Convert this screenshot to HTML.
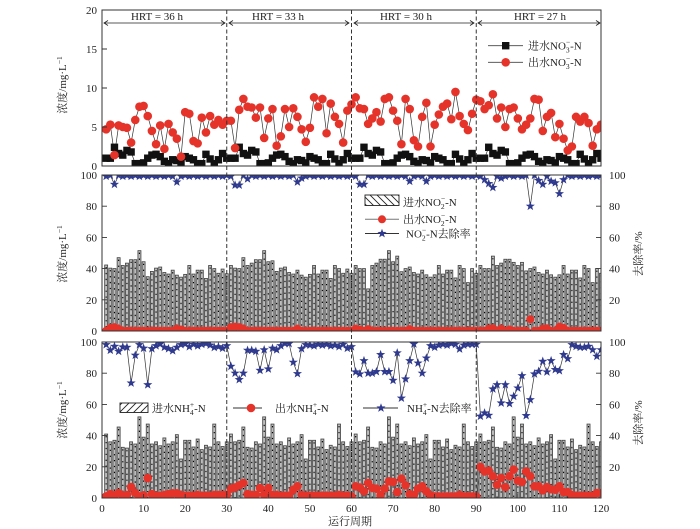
<!DOCTYPE html>
<html><head><meta charset="utf-8">
<style>
html,body{margin:0;padding:0;background:#fff;}
svg{display:block;}
text{font-family:"Liberation Serif","Noto Serif CJK SC",serif;fill:#222;font-size:11px;}
</style></head>
<body>
<svg id="c" width="700" height="529" viewBox="0 0 700 529" xmlns="http://www.w3.org/2000/svg">
<defs>
 <clipPath id="cp1"><rect x="102" y="10" width="499" height="156"/></clipPath>
 <clipPath id="cp2"><rect x="102" y="175" width="499" height="156"/></clipPath>
 <clipPath id="cp3"><rect x="102" y="342" width="499" height="156"/></clipPath>
 <pattern id="hb" patternUnits="userSpaceOnUse" width="7" height="7">
  <path d="M0,0 L7,7 M-2,5 L2,9 M5,-2 L9,2" stroke="#222" stroke-width="0.9"/>
 </pattern>
 <pattern id="hf" patternUnits="userSpaceOnUse" width="7" height="7">
  <path d="M0,7 L7,0 M-2,2 L2,-2 M5,9 L9,5" stroke="#222" stroke-width="0.9"/>
 </pattern>
</defs>

<!-- data groups -->
<g id="g1" clip-path="url(#cp1)"></g>
<g id="g2" clip-path="url(#cp2)"></g>
<g id="g3" clip-path="url(#cp3)"></g>

<!-- dashed separators -->
<g stroke="#333" stroke-width="1" stroke-dasharray="4 2.5">
 <line x1="226.75" y1="10" x2="226.75" y2="498"/>
 <line x1="351.5" y1="10" x2="351.5" y2="498"/>
 <line x1="476.25" y1="10" x2="476.25" y2="498"/>
</g>

<!-- panel frames -->
<g fill="none" stroke="#333" stroke-width="1">
 <rect x="102" y="10" width="499" height="156"/>
 <rect x="102" y="175" width="499" height="156"/>
 <rect x="102" y="342" width="499" height="156"/>
</g>

<!-- ticks -->
<g stroke="#333" stroke-width="0.9">
 <path d="M102,127 h5 M102,88 h5 M102,49 h5"/>
 <path d="M102,299.8 h5 M102,268.6 h5 M102,237.4 h5 M102,206.2 h5"/>
 <path d="M601,299.8 h-5 M601,268.6 h-5 M601,237.4 h-5 M601,206.2 h-5"/>
 <path d="M102,466.8 h5 M102,435.6 h5 M102,404.4 h5 M102,373.2 h5"/>
 <path d="M601,466.8 h-5 M601,435.6 h-5 M601,404.4 h-5 M601,373.2 h-5"/>
 <path d="M143.6,498 v-4 M185.2,498 v-4 M226.75,498 v-4 M268.3,498 v-4 M309.9,498 v-4 M351.5,498 v-4 M393.1,498 v-4 M434.6,498 v-4 M476.25,498 v-4 M517.8,498 v-4 M559.4,498 v-4"/>
</g>

<!-- left tick labels -->
<g text-anchor="end">
 <text x="97" y="14">20</text>
 <text x="97" y="131">5</text>
 <text x="97" y="92">10</text>
 <text x="97" y="53">15</text>
 <text x="97" y="170">0</text>
 <text x="97" y="179">100</text>
 <text x="97" y="210.2">80</text>
 <text x="97" y="241.4">60</text>
 <text x="97" y="272.6">40</text>
 <text x="97" y="303.8">20</text>
 <text x="97" y="335">0</text>
 <text x="97" y="346">100</text>
 <text x="97" y="377.2">80</text>
 <text x="97" y="408.4">60</text>
 <text x="97" y="439.6">40</text>
 <text x="97" y="470.8">20</text>
 <text x="97" y="502">0</text>
</g>
<!-- right tick labels -->
<g text-anchor="start">
 <text x="609" y="179">100</text>
 <text x="609" y="210.2">80</text>
 <text x="609" y="241.4">60</text>
 <text x="609" y="272.6">40</text>
 <text x="609" y="303.8">20</text>
 <text x="609" y="346">100</text>
 <text x="609" y="377.2">80</text>
 <text x="609" y="408.4">60</text>
 <text x="609" y="439.6">40</text>
 <text x="609" y="470.8">20</text>
</g>
<!-- x tick labels -->
<g text-anchor="middle">
 <text x="102" y="512">0</text>
 <text x="143.6" y="512">10</text>
 <text x="185.2" y="512">20</text>
 <text x="226.75" y="512">30</text>
 <text x="268.3" y="512">40</text>
 <text x="309.9" y="512">50</text>
 <text x="351.5" y="512">60</text>
 <text x="393.1" y="512">70</text>
 <text x="434.6" y="512">80</text>
 <text x="476.25" y="512">90</text>
 <text x="517.8" y="512">100</text>
 <text x="559.4" y="512">110</text>
 <text x="601" y="512">120</text>
</g>
<text x="350" y="525" text-anchor="middle">运行周期</text>

<!-- axis titles -->
<text transform="translate(66,85) rotate(-90)" text-anchor="middle">浓度/mg·L<tspan font-size="7.5" dy="-4">−1</tspan></text>
<text transform="translate(66,254) rotate(-90)" text-anchor="middle">浓度/mg·L<tspan font-size="7.5" dy="-4">−1</tspan></text>
<text transform="translate(66,410) rotate(-90)" text-anchor="middle">浓度/mg·L<tspan font-size="7.5" dy="-4">−1</tspan></text>
<text transform="translate(642,254) rotate(-90)" text-anchor="middle">去除率/%</text>
<text transform="translate(642,423) rotate(-90)" text-anchor="middle">去除率/%</text>

<!-- HRT arrows -->
<g stroke="#222" stroke-width="0.8" fill="none">
 <path d="M104,23 H225 M108,20.5 L104,23 L108,25.5 M221,20.5 L225,23 L221,25.5"/>
 <path d="M229,23 H349 M233,20.5 L229,23 L233,25.5 M345,20.5 L349,23 L345,25.5"/>
 <path d="M354,23 H474 M358,20.5 L354,23 L358,25.5 M470,20.5 L474,23 L470,25.5"/>
 <path d="M478,23 H600 M482,20.5 L478,23 L482,25.5 M596,20.5 L600,23 L596,25.5"/>
</g>
<g text-anchor="middle">
 <text x="157" y="20">HRT = 36 h</text>
 <text x="278" y="20">HRT = 33 h</text>
 <text x="406" y="20">HRT = 30 h</text>
 <text x="540" y="20">HRT = 27 h</text>
</g>

<!-- top legend -->
<g stroke="#444" stroke-width="0.9">
 <line x1="488" y1="45.7" x2="523" y2="45.7"/>
 <line x1="488" y1="62.3" x2="523" y2="62.3"/>
</g>
<rect x="502" y="42" width="7.4" height="7.4" fill="#111"/>
<circle cx="505.7" cy="62.3" r="4.3" fill="#e5332a"/>
<text x="528" y="49.5">进水NO<tspan font-size="7.5" dy="3">3</tspan><tspan font-size="7.5" dx="-3.8" dy="-8">−</tspan><tspan dy="5">-N</tspan></text>
<text x="528" y="66">出水NO<tspan font-size="7.5" dy="3">3</tspan><tspan font-size="7.5" dx="-3.8" dy="-8">−</tspan><tspan dy="5">-N</tspan></text>

<!-- middle legend -->
<rect x="365" y="195" width="34" height="10.5" fill="url(#hb)" stroke="#222" stroke-width="0.9"/>
<text x="403" y="206">进水NO<tspan font-size="7.5" dy="3">2</tspan><tspan font-size="7.5" dx="-3.8" dy="-8">−</tspan><tspan dy="5">-N</tspan></text>
<line x1="365" y1="219.3" x2="399" y2="219.3" stroke="#777" stroke-width="1"/>
<circle cx="382" cy="219.3" r="4" fill="#e5332a"/>
<text x="403" y="223">出水NO<tspan font-size="7.5" dy="3">2</tspan><tspan font-size="7.5" dx="-3.8" dy="-8">−</tspan><tspan dy="5">-N</tspan></text>
<line x1="365" y1="233.5" x2="399" y2="233.5" stroke="#333" stroke-width="0.9"/>
<path fill="#2f3a8f" transform="translate(382,233.5)" d="M0,-4.8 L1.146,-1.578 L4.565,-1.483 L1.855,0.603 L2.821,3.883 L0,1.95 L-2.821,3.883 L-1.855,0.603 L-4.565,-1.483 L-1.146,-1.578 Z"/>
<text x="406" y="237.5">NO<tspan font-size="7.5" dy="3">2</tspan><tspan font-size="7.5" dx="-3.8" dy="-8">−</tspan><tspan dy="5">-N去除率</tspan></text>

<!-- bottom legend -->
<rect x="120" y="403" width="28" height="9.5" fill="url(#hf)" stroke="#222" stroke-width="0.9"/>
<text x="152" y="412">进水NH<tspan font-size="7.5" dy="3">4</tspan><tspan font-size="7.5" dx="-3.8" dy="-8">+</tspan><tspan dy="5">-N</tspan></text>
<line x1="233" y1="408" x2="262" y2="408" stroke="#333" stroke-width="0.9"/>
<circle cx="251" cy="408" r="4.3" fill="#e5332a"/>
<text x="275" y="412">出水NH<tspan font-size="7.5" dy="3">4</tspan><tspan font-size="7.5" dx="-3.8" dy="-8">+</tspan><tspan dy="5">-N</tspan></text>
<line x1="363" y1="408" x2="398" y2="408" stroke="#333" stroke-width="0.9"/>
<path fill="#2f3a8f" transform="translate(381,408)" d="M0,-4.8 L1.146,-1.578 L4.565,-1.483 L1.855,0.603 L2.821,3.883 L0,1.95 L-2.821,3.883 L-1.855,0.603 L-4.565,-1.483 L-1.146,-1.578 Z"/>
<text x="407" y="412">NH<tspan font-size="7.5" dy="3">4</tspan><tspan font-size="7.5" dx="-3.8" dy="-8">+</tspan><tspan dy="5">-N去除率</tspan></text>
</svg>

<script>
(function(){
const NS="http://www.w3.org/2000/svg";
function el(tag,attrs,parent){const e=document.createElementNS(NS,tag);for(const k in attrs)e.setAttribute(k,attrs[k]);parent.appendChild(e);return e;}
const X=d=>102+d*499/120;
function rep(a){return a.concat(a,a,a);}
const STAR="M0,-4.8 L1.146,-1.578 L4.565,-1.483 L1.855,0.603 L2.821,3.883 L0,1.95 L-2.821,3.883 L-1.855,0.603 L-4.565,-1.483 L-1.146,-1.578 Z";
const RED="#e5332a", NAVY="#2f3a8f";
const Y1=v=>166-v*7.8, Y2=v=>331-v*1.56, Y3=v=>498-v*1.56;
const g1=document.getElementById('g1'),g2=document.getElementById('g2'),g3=document.getElementById('g3');

function line(g,vals,Y,color,w){
  const pts=vals.map((v,i)=>X(i+1).toFixed(2)+','+Y(v).toFixed(2)).join(' ');
  el('polyline',{points:pts,fill:'none',stroke:color,'stroke-width':w},g);
}
function squares(g,vals,Y){vals.forEach((v,i)=>{el('rect',{x:(X(i+1)-3.7).toFixed(2),y:(Y(v)-3.7).toFixed(2),width:7.4,height:7.4,fill:'#111'},g);});}
function circles(g,vals,Y,r){vals.forEach((v,i)=>{el('circle',{cx:X(i+1).toFixed(2),cy:Y(v).toFixed(2),r:r,fill:RED},g);});}
function stars(g,vals,Y){vals.forEach((v,i)=>{el('path',{d:STAR,fill:NAVY,transform:'translate('+X(i+1).toFixed(2)+','+Y(v).toFixed(2)+')'},g);});}
function bars(g,vals,Y,base){vals.forEach((v,i)=>{const x=X(i+1),y=Y(v);
  el('rect',{x:(x-1.5).toFixed(2),y:y.toFixed(2),width:3,height:(base-y).toFixed(2),fill:'#bcbcbc',stroke:'#404040','stroke-width':0.8},g);
  el('line',{x1:x.toFixed(2),y1:(y+2).toFixed(2),x2:x.toFixed(2),y2:base,stroke:'#000','stroke-width':1.1,'stroke-dasharray':'1.3 4.6'},g);
});}

/* ---------- top panel ---------- */
const inNO3=rep([1.0,1.0,2.4,1.6,1.4,2.0,1.8,0.3,0.3,0.4,1.0,1.4,1.5,1.2,0.6,0.3,0.8,0.7,0.4,1.2,1.0,0.8,0.3,0.3,1.5,0.9,0.3,0.8,1.6,1.0]);
const outNO3=[4.7,5.3,1.4,5.2,5.0,4.9,3.0,5.9,7.6,7.7,6.4,4.5,2.8,5.2,2.2,5.4,4.3,3.5,1.2,6.9,6.7,3.2,2.9,6.2,4.3,6.4,5.3,5.9,5.3,5.8,
5.8,2.3,7.2,8.6,7.6,7.5,6.2,7.5,3.6,6.1,7.3,2.6,3.8,7.3,5.0,7.4,6.3,4.7,3.1,4.9,8.8,7.6,8.6,4.2,8.0,6.3,5.4,3.0,7.1,7.9,
8.8,7.4,7.3,5.4,6.1,6.9,5.7,8.6,8.8,7.1,5.8,2.8,8.6,7.3,3.3,2.5,6.3,8.1,2.5,5.3,6.6,7.6,8.0,6.0,9.5,6.4,5.4,4.6,6.7,8.5,
8.3,7.3,7.8,9.2,6.1,7.5,5.0,7.3,7.5,6.1,4.7,5.3,6.1,8.6,8.5,4.5,6.3,6.8,3.7,5.4,3.5,2.0,2.5,6.3,5.7,6.3,5.5,2.6,4.7,5.3];
line(g1,inNO3,Y1,'#333',0.7);
line(g1,outNO3,Y1,'#333',0.7);
squares(g1,inNO3,Y1);
circles(g1,outNO3,Y1,4.3);

/* ---------- middle panel ---------- */
const bars2=[42.3,40.3,40,47,42,43.5,45.7,45.7,51.5,44.4,34.8,38.2,40.3,41,37.5,36.5,39,35.8,34.5,36.3,42,36.5,39,39,33.7,42,40,37,39.7,36.7,
42,40.3,40,47,42,43.5,45.7,45.7,51.5,44.4,45,38.2,40.3,41,37.5,36.5,39,35.8,34.5,36.3,42,36.5,39,39,33.7,42,40,37,39.7,37,
42,40,40,27,42,43.5,46,46,51.5,44.4,48,38,40,41,37.5,36.5,39,36,34.5,36,42,36.5,39,39,34,42,40,31,40,37,
42,40,40,48,42,43.5,46,46,44,42,44,38.5,40,41,37.5,36.5,39,36,34.5,36,42,36.5,39,39,34,42,40,31,40,37];
const out2=Array(120).fill(0.2);
const b2={2:2,3:2.5,4:1.5,18:1.5,19:1,31:2.5,32:2.8,33:2.5,34:1.5,47:1.5,61:1.5,62:1,64:1.2,74:1.2,93:1.5,94:1.8,96:1.5,98:1,103:7.5,106:1.5,107:1.8,110:2.8,111:2};
for(const k in b2) out2[k-1]=b2[k];
const rem2=Array.from({length:120},(_,i)=>i%2?99.8:99.2);
const d2={3:94,18:95.5,32:93.5,33:93.5,35:97.5,47:95.5,48:98,62:94,63:94,74:96,78:96,92:97,93:94.5,94:92,96:98,103:80,105:96.5,106:94,108:96,109:95,110:88,111:97};
for(const k in d2) rem2[k-1]=d2[k];
bars(g2,bars2,Y2,331);
line(g2,out2,Y2,'#777',0.7);
circles(g2,out2,Y2,4);
line(g2,rem2,Y2,'#333',0.7);
stars(g2,rem2,Y2);

/* ---------- bottom panel ---------- */
const bars3=rep([41,36,37,45.5,32.5,32,36,34.6,52,39,47.4,34.6,36,33.5,38.5,34.6,36,40.6,25,37,37,32.7,37.8,31,33.8,32.7,47.4,36,33,36]);
const out3=[1,2.5,1.7,3.2,1.7,2,7,3.2,1,1.7,12.8,2.5,1.5,1.5,2,2.5,3,3,2,1.5,1.5,1.5,2,1.5,1.5,1.5,2,2,2,2,
6,6.8,8.1,9.6,2.5,2,2,6.4,2,6.4,2,2,1.5,1.5,1.5,5.3,7.5,2,1.5,1.5,1.5,1.5,1.5,1.5,1.5,1.5,2,1.5,1.5,1,
7.5,6.8,4.3,9.6,6.4,6,1.7,6,10.7,10.3,3.8,12.4,8.1,2.5,2,6,7.5,4.3,1.7,1,1,1,1,1,1,2,1,1,1,1,
19.9,17,17.5,13.9,8.5,12.8,7,13.9,18.2,11.1,10.3,17,13.9,7.5,7.5,4.9,7,5.6,5.3,7.5,3.8,3.8,2,1.5,1.5,1.5,1.5,1.5,3.2,3.2];
const rem3=[98.3,94.7,97.2,94,96.8,96.6,73.7,91.5,98.3,96,72.6,95.7,97.6,98.7,96.6,95.7,94.4,96.6,98.3,98.7,97,98.5,97.5,98.5,99,98,96.5,97,96,97.6,
84.4,80,75.9,80,94.7,94.7,94,81.8,95,82.7,96,95,97.6,99,99,87,79.7,95.7,98.3,98,97.5,98.5,98,98.5,97.5,98,97,98.5,96,97,
80.8,79.5,88,80,80,81,91.9,81,81,75.4,93,64,76.3,88,98.7,86.5,80,89.7,97.6,96.6,98,98.5,98,99,98.5,95.5,98,98.5,98.5,98.5,
52.4,54.5,53,69.9,72.6,60.9,72.6,60.5,65.2,70.5,78.4,52.8,63,79.5,81.2,87.6,80.8,88,82.3,81.6,91.9,89.3,98.3,97.2,96.6,96.6,97.2,95,90.8,95];
bars(g3,bars3,Y3,498);
line(g3,out3,Y3,'#555',0.7);
circles(g3,out3,Y3,4.3);
line(g3,rem3,Y3,'#333',0.7);
stars(g3,rem3,Y3);
})();
</script>
</body></html>
